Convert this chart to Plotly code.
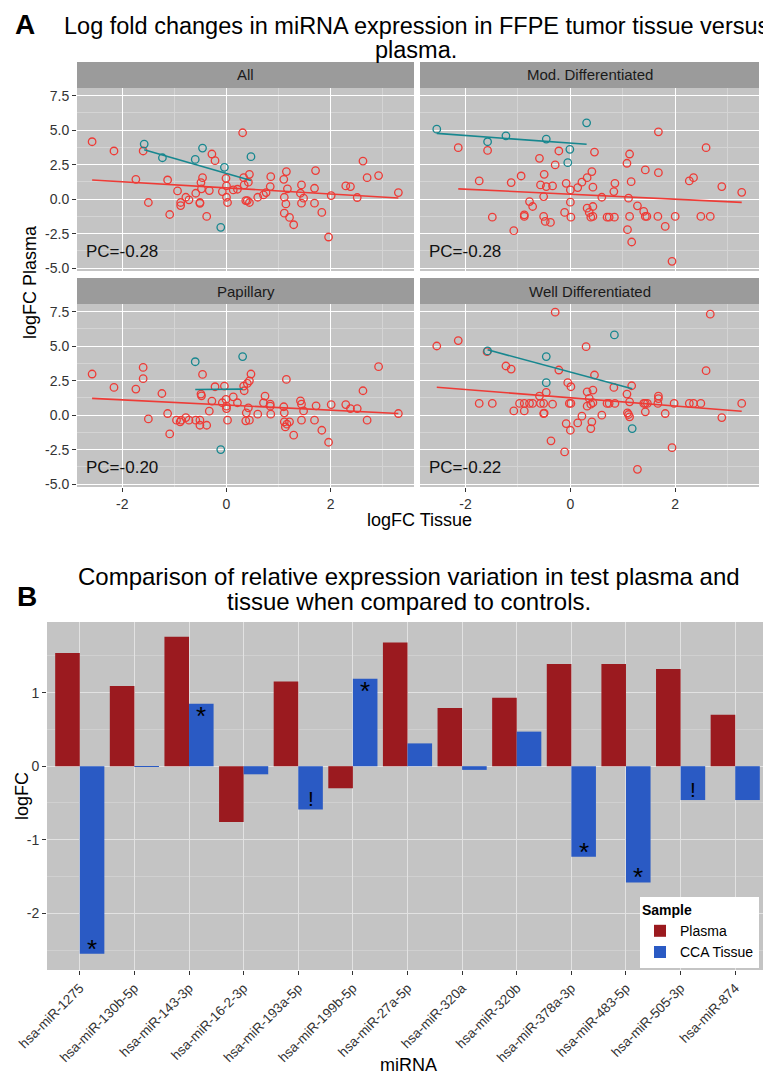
import numpy as np
import plotly.graph_objects as go

# ---------------- Panel A data (logFC Tissue vs logFC Plasma) ----------------
panels = ["All", "Mod. Differentiated", "Papillary", "Well Differentiated"]
pc_labels = ["PC=-0.28", "PC=-0.28", "PC=-0.20", "PC=-0.22"]

all_red_x = [-2.58, -2.16, -1.60, -1.74, -1.13, -1.50, -1.09, -0.94, -0.88, -0.88, -0.78, -0.72, -0.59, -0.51,
             -0.51, -0.49, -0.46, -0.48, -0.38, -0.33, -0.28, -0.22, -0.08, -0.01, 0.00, 0.00, 0.02, 0.13, 0.21,
             0.31, 0.33, 0.34, 0.42, 0.44, 0.37, 0.40, 0.44, 0.60, 0.71, 0.76, 0.84, 0.85, 1.10, 1.15, 1.17, 1.11,
             1.14, 1.11, 1.21, 1.29, 1.44, 1.42, 1.48, 1.44, 1.69, 1.71, 1.69, 1.83, 1.96, 2.01, 2.29, 2.38, 2.51,
             2.62, 2.70, 2.92, 3.30]
all_red_y = [4.16, 3.49, 3.49, 1.44, 1.39, -0.24, -1.11, 0.60, -0.24, -0.46, 0.14, -0.05, 0.43, -0.24,
             -0.30, 1.20, 1.56, 0.75, -1.25, 0.62, 3.27, 2.79, 0.55, 1.51, 0.96, 0.14, -0.24, 0.67, 0.72,
             4.81, 1.56, 1.03, 1.23, 1.80, -0.10, -0.10, -0.24, 0.14, 0.31, 0.48, 0.91, 1.63, 1.44, 2.00, 0.75, 0.14,
             -0.34, -1.01, -1.32, -1.85, 1.03, 0.43, 0.07, -0.29, 0.79, 2.07, -0.29, -0.96, -2.74, 0.26, 0.96, 0.91, 0.12,
             2.76, 1.56, 1.71, 0.48]
all_teal_x = [-1.58, -1.23, -0.60, -0.46, -0.04, -0.11, 0.47]
all_teal_y = [3.99, 3.00, 2.88, 3.70, 2.31, -2.04, 3.08]

mod_red_x = [-2.14, -1.58, -1.74, -1.49, -1.13, -1.08, -0.94, -0.88, -0.88, -0.78, -0.72, -0.59, -0.57, -0.51,
             -0.50, -0.46, -0.51, -0.48, -0.38, -0.34, -0.29, -0.22, -0.11, -0.08, 0.00, 0.00, 0.01, 0.14, 0.22,
             0.32, 0.41, 0.43, 0.46, 0.32, 0.36, 0.39, 0.43, 0.43, 0.60, 0.70, 0.74, 0.84, 0.85, 0.83, 1.08, 1.13,
             1.11, 1.13, 1.09, 1.17, 1.16, 1.28, 1.40, 1.43, 1.46, 1.43, 1.67, 1.68, 1.68, 1.81, 2.00, 1.94, 2.27,
             2.35, 2.49, 2.59, 2.67, 2.89, 3.27]
mod_red_y = [3.73, 3.53, 1.32, -1.30, 1.20, -2.28, 1.68, -1.13, -1.25, -0.17, -0.53, 2.96, 1.03, 0.19,
             1.80, 0.91, -1.25, -1.61, -1.68, 0.96, 2.48, 3.49, -0.96, 1.15, 0.67, -0.22, -1.30, 0.84, 1.23,
             1.56, 2.00, 0.87, 3.41, -0.65, -0.96, -1.30, -1.25, -0.53, 0.14, -1.30, -1.30, -1.30, 1.15, 0.55, 2.60, 3.27,
             0.07, -1.25, -2.21, -3.10, 1.27, -0.48, -0.89, -1.25, -1.25, 2.12, -1.25, 1.92, 4.88, -1.97, -1.25, -4.50, 1.32,
             1.56, -1.25, 3.73, -1.25, 0.91, 0.50]
mod_teal_x = [-2.55, -1.58, -1.23, -0.46, -0.01, -0.05, 0.31]
mod_teal_y = [5.07, 4.16, 4.59, 4.35, 3.61, 2.64, 5.53]

pap_red_x = [-2.58, -2.16, -1.60, -1.60, -1.74, -1.50, -1.24, -1.13, -1.09, -0.96, -0.89, -0.87, -0.78, -0.72,
             -0.59, -0.51, -0.51, -0.38, -0.49, -0.48, -0.46, -0.33, -0.28, -0.22, -0.08, -0.04, -0.01, 0.00, 0.00,
             0.02, 0.13, 0.21, 0.33, 0.34, 0.40, 0.44, 0.47, 0.38, 0.42, 0.37, 0.44, 0.60, 0.74, 0.71, 0.84, 0.85,
             0.84, 1.10, 1.15, 1.11, 1.13, 1.16, 1.21, 1.11, 1.29, 1.42, 1.44, 1.48, 1.44, 1.69, 1.72, 1.83, 1.96,
             2.01, 2.29, 2.38, 2.51, 2.62, 2.70, 2.92, 3.30]
pap_red_y = [2.98, 2.01, 3.46, 2.64, 1.89, -0.27, 1.57, 0.12, -1.36, -0.36, -0.48, -0.36, -0.17, -0.36,
             -0.36, -0.36, -0.73, -0.73, 1.53, 1.40, 2.95, 0.29, 1.02, 2.06, 0.90, 2.11, 1.14, 0.48, 0.65,
             -0.36, 1.33, 0.90, 2.11, 1.77, 2.30, 2.49, 2.98, 0.17, 0.53, -0.41, -0.36, 0.07, 1.38, 0.90, 0.80, 0.07,
             0.65, 0.61, 2.59, 0.17, -0.85, -0.65, -0.48, -0.48, -1.45, 1.04, 0.80, 0.31, -0.36, -0.36, 0.68, -1.09, -1.96,
             0.77, 0.77, 0.48, 0.48, 1.77, -0.36, 3.51, 0.12]
pap_teal_x = [-0.60, 0.31, -0.11]
pap_teal_y = [3.87, 4.24, -2.49]

well_red_x = [-2.55, -2.14, -1.59, -1.23, -1.13, -1.74, -1.49, -1.08, -0.97, -0.88, -0.88, -0.78, -0.72, -0.59,
              -0.57, -0.51, -0.50, -0.46, -0.51, -0.34, -0.37, -0.29, -0.22, -0.11, -0.08, -0.05, 0.01, 0.00, -0.02,
              0.01, 0.14, 0.22, 0.30, 0.32, 0.36, 0.32, 0.39, 0.43, 0.43, 0.46, 0.41, 0.39, 0.60, 0.70, 0.74, 0.85,
              0.83, 1.08, 1.17, 1.13, 1.09, 1.13, 1.11, 1.28, 1.40, 1.43, 1.47, 1.43, 1.67, 1.68, 1.68, 1.81, 1.98,
              1.94, 2.27, 2.35, 2.49, 2.59, 2.67, 2.89, 3.27]
well_red_y = [5.01, 5.40, 4.60, 3.56, 3.34, 0.85, 0.85, 0.31, 0.85, 0.85, 0.31, 0.85, 0.85, 1.38,
              0.85, 0.12, 0.15, 1.65, 0.85, 0.80, -1.86, 7.46, 3.27, -2.66, -0.61, 2.35, 2.06, -1.09, 0.85,
              0.85, -0.56, -0.07, 4.96, 1.69, 1.21, 0.65, 0.80, 0.90, 1.82, 2.91, -0.48, -0.97, 0.00, 0.85, 0.85, 0.85,
              2.01, 1.53, 2.13, 0.97, 0.17, -0.12, 0.05, -3.92, 0.85, 0.85, 0.85, 0.24, 0.85, 1.38, 1.20, 0.12, 0.85,
              -2.35, 0.85, 0.85, 0.85, 3.22, 7.31, -0.17, 0.85]
well_teal_x = [0.84, -0.46, -1.58, -0.46, 1.18]
well_teal_y = [5.81, 4.24, 4.65, 2.35, -0.97]

# ---------------- Panel B data ----------------
mirnas = ["hsa-miR-1275", "hsa-miR-130b-5p", "hsa-miR-143-3p", "hsa-miR-16-2-3p", "hsa-miR-193a-5p",
          "hsa-miR-199b-5p", "hsa-miR-27a-5p", "hsa-miR-320a", "hsa-miR-320b", "hsa-miR-378a-3p",
          "hsa-miR-483-5p", "hsa-miR-505-3p", "hsa-miR-874"]
plasma_fc = [1.54, 1.09, 1.76, -0.76, 1.15, -0.30, 1.68, 0.79, 0.93, 1.39, 1.39, 1.32, 0.70]
tissue_fc = [-2.55, -0.01, 0.85, -0.11, -0.59, 1.19, 0.31, -0.05, 0.47, -1.23, -1.58, -0.46, -0.46]
tissue_marks = ["*", "", "*", "", "!", "*", "", "", "", "*", "*", "!", ""]

# ---------------- styling ----------------
FONT = "Liberation Sans, Arial, Helvetica, sans-serif"
RED = "#EE3B36"
TEAL = "#17878F"
PANEL_BG = "#C4C4C4"
STRIP_BG = "#9B9B9B"
MINOR = "#D4D4D4"
PAGE_W, PAGE_H = 771, 1078
OFF = 8                      # the page body margin shifts the figure by 8 px
W, H = PAGE_W - OFF, PAGE_H - OFF


def px(x):
    return (x - OFF) / W


def py(y):
    return 1 - (y - OFF) / H


def label(text, x, y, size, angle=0, color="black", xanchor="center", **kw):
    return dict(text=text, xref="paper", yref="paper", x=px(x), y=py(y), showarrow=False, textangle=angle,
                xanchor=xanchor, yanchor="middle", font=dict(family=FONT, size=size, color=color), **kw)


fig = go.Figure()

panel_data = [
    (all_red_x, all_red_y, all_teal_x, all_teal_y),
    (mod_red_x, mod_red_y, mod_teal_x, mod_teal_y),
    (pap_red_x, pap_red_y, pap_teal_x, pap_teal_y),
    (well_red_x, well_red_y, well_teal_x, well_teal_y),
]

col_x = [(77, 414), (420, 759)]
row_y = [(88, 271), (304, 487)]
strip_h = 26
boxes = [(col_x[0], row_y[0]), (col_x[1], row_y[0]), (col_x[0], row_y[1]), (col_x[1], row_y[1])]

shapes = []
annotations = []

for i, (rx, ry, tx, ty) in enumerate(panel_data):
    n = i + 1
    xa = "x" if n == 1 else f"x{n}"
    ya = "y" if n == 1 else f"y{n}"
    for gx, gy, col in ((rx, ry, RED), (tx, ty, TEAL)):
        fig.add_trace(go.Scatter(x=gx, y=gy, mode="markers", xaxis=xa, yaxis=ya, showlegend=False,
                                 marker=dict(symbol="circle-open", size=7.5, color=col,
                                             line=dict(width=1.3, color=col)),
                                 hoverinfo="skip"))
        gxa = np.array(gx)
        gya = np.array(gy)
        slope, icpt = np.polyfit(gxa, gya, 1)
        lx = np.array([gxa.min(), gxa.max()])
        fig.add_trace(go.Scatter(x=lx, y=slope * lx + icpt, mode="lines", xaxis=xa, yaxis=ya, showlegend=False,
                                 line=dict(color=col, width=1.6), hoverinfo="skip"))
    (x0, x1), (y0, y1) = boxes[i]
    common = dict(showline=False, zeroline=False, gridcolor="white", gridwidth=1.3, showgrid=True,
                  automargin=False, tickfont=dict(family=FONT, size=14, color="#333333"),
                  ticklen=4, tickcolor="#333333", tickwidth=1)
    fig.update_layout(**{
        ("xaxis" if n == 1 else f"xaxis{n}"): dict(
            domain=[px(x0), px(x1)], anchor=ya, range=[-2.87, 3.6], tickvals=[-2, 0, 2],
            ticktext=["-2", "0", "2"], showticklabels=(i >= 2), ticks="outside" if i >= 2 else "",
            minor=dict(tickvals=[-1, 1, 3], gridcolor=MINOR, gridwidth=0.7, showgrid=True, ticks=""),
            **common),
        ("yaxis" if n == 1 else f"yaxis{n}"): dict(
            domain=[py(y1), py(y0)], anchor=xa, range=[-5.2, 8.05], tickvals=[-5, -2.5, 0, 2.5, 5, 7.5],
            ticktext=["-5.0", "-2.5", "0.0", "2.5", "5.0", "7.5"], showticklabels=(i % 2 == 0),
            ticks="outside" if i % 2 == 0 else "",
            minor=dict(tickvals=[-3.75, -1.25, 1.25, 3.75, 6.25], gridcolor=MINOR, gridwidth=0.7,
                       showgrid=True, ticks=""),
            **common),
    })
    shapes.append(dict(type="rect", xref="paper", yref="paper", x0=px(x0), x1=px(x1), y0=py(y0),
                       y1=py(y0 - strip_h), fillcolor=STRIP_BG, line=dict(width=0), layer="below"))
    annotations.append(label(panels[i], (x0 + x1) / 2, y0 - strip_h / 2, 15, color="#1A1A1A"))
    annotations.append(dict(text=pc_labels[i], xref=xa, yref=ya, x=-2.74, y=-3.8, xanchor="left",
                            yanchor="middle", showarrow=False, font=dict(family=FONT, size=17, color="#111111")))

# ---------------- bar chart ----------------
fig.add_trace(go.Bar(x=mirnas, y=plasma_fc, name="Plasma", marker=dict(color="#9B1A1F", line=dict(width=0)),
                     xaxis="x5", yaxis="y5", hoverinfo="skip"))
fig.add_trace(go.Bar(x=mirnas, y=tissue_fc, name="CCA Tissue", marker=dict(color="#2A5AC4", line=dict(width=0)),
                     xaxis="x5", yaxis="y5", hoverinfo="skip"))

for j, m in enumerate(tissue_marks):
    if not m:
        continue
    v = tissue_fc[j]
    if m == "*":
        yy = v + 0.07 if v < 0 else v - 0.17
        size = 26
    else:
        yy = v + 0.15 if v < 0 else v - 0.15
        size = 21
    annotations.append(dict(text=m, xref="x5", yref="y5", x=j + 0.225, y=yy, showarrow=False,
                            xanchor="center", yanchor="middle",
                            font=dict(family=FONT, size=size, color="black")))

fig.update_layout(
    xaxis5=dict(domain=[px(47), px(768)], anchor="y5", range=[-0.6, 12.6], tickangle=-45, type="category",
                showgrid=True, gridcolor="#E2E2E2", gridwidth=1, ticks="outside", ticklen=4, tickcolor="#333333",
                tickfont=dict(family=FONT, size=13.5, color="#333333"), showline=False, zeroline=False,
                automargin=False),
    yaxis5=dict(domain=[py(970), py(622)], anchor="x5", range=[-2.77, 1.96], tickvals=[-2, -1, 0, 1],
                ticktext=["-2", "-1", "0", "1"], showgrid=True, gridcolor="#E2E2E2", gridwidth=1.2,
                minor=dict(tickvals=[-2.5, -1.5, -0.5, 0.5, 1.5], gridcolor="#D0D0D0", gridwidth=0.7,
                           showgrid=True, ticks=""),
                ticks="outside", ticklen=4, tickcolor="#333333", zeroline=False, showline=False,
                tickfont=dict(family=FONT, size=14, color="#333333"), automargin=False),
    barmode="group", bargap=0.1, bargroupgap=0,
    legend=dict(x=px(640), y=py(897), xanchor="left", yanchor="top", bgcolor="white",
                title=dict(text="<b>Sample</b>", font=dict(family=FONT, size=14, color="black")),
                font=dict(family=FONT, size=14, color="black"), borderwidth=0, tracegroupgap=0,
                itemwidth=30),
)

annotations += [
    label("<b>A</b>", 25, 25, 28),
    label("Log fold changes in miRNA expression in FFPE tumor tissue versus", 416, 26, 23.5),
    label("plasma.", 416, 50, 23.5),
    label("logFC Plasma", 30, 282, 18, angle=-90),
    label("logFC Tissue", 420, 520, 18),
    label("<b>B</b>", 27, 596, 28),
    label("Comparison of relative expression variation in test plasma and", 409, 576, 24),
    label("tissue when compared to controls.", 409, 601, 24),
    label("logFC", 22, 796, 18, angle=-90),
    label("miRNA", 408, 1065, 18),
]

fig.update_layout(template="none", width=W, height=H, margin=dict(l=0, r=0, t=0, b=0, autoexpand=False),
                  paper_bgcolor="white", plot_bgcolor=PANEL_BG, shapes=shapes, annotations=annotations,
                  showlegend=True, font=dict(family=FONT))

fig.write_html("out.html")
